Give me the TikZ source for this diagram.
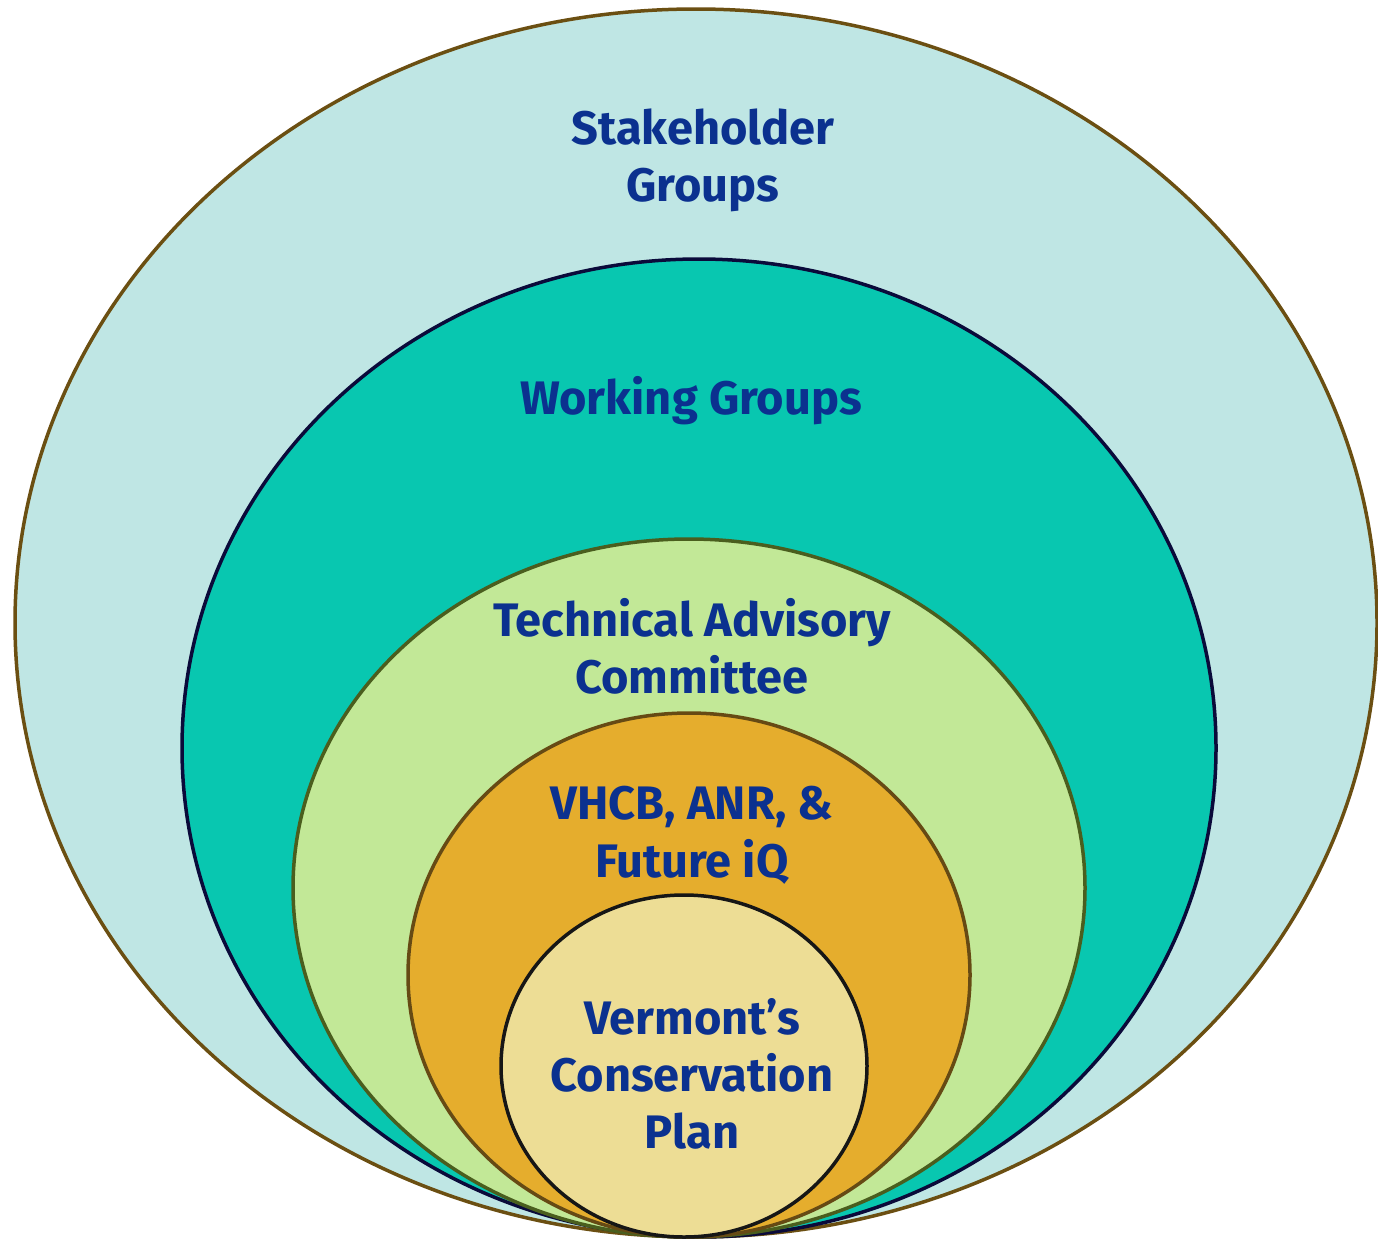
\documentclass[tikz,border=0pt]{standalone}
\usepackage{fontspec}
\setmainfont{Fira Sans}
\definecolor{txt}{HTML}{0B318F}
\definecolor{c1f}{HTML}{BFE6E4}
\definecolor{c1d}{HTML}{6B4F12}
\definecolor{c2f}{HTML}{08C7B0}
\definecolor{c2d}{HTML}{0A0A3A}
\definecolor{c3f}{HTML}{C2E897}
\definecolor{c3d}{HTML}{4A5E1E}
\definecolor{c4f}{HTML}{E5AD2D}
\definecolor{c4d}{HTML}{664A14}
\definecolor{c5f}{HTML}{EDDD95}
\definecolor{c5d}{HTML}{161616}
\begin{document}
\begin{tikzpicture}[x=1pt,y=-1pt,
  lab/.style={anchor=base,inner sep=0pt,text=txt,font=\fontsize{47}{57}\selectfont\bfseries},
  ring/.style={line width=3.5pt}]
\useasboundingbox (0,0) rectangle (1378,1240);
\draw[ring,fill=c1f,draw=c1d] (696,623) ellipse [x radius=681, y radius=614];
\draw[ring,fill=c2f,draw=c2d] (699,748) ellipse [x radius=517, y radius=489];
\draw[ring,fill=c3f,draw=c3d] (689,888) ellipse [x radius=396, y radius=349];
\draw[ring,fill=c4f,draw=c4d] (689,975) ellipse [x radius=281, y radius=262];
\draw[ring,fill=c5f,draw=c5d] (684,1066) ellipse [x radius=183, y radius=171];
\node[lab] (sh1) at (703,144) {Stakeholder};
\node[lab] (sh2) at (703,201) {Groups};
\node[lab] (wg) at (691,414) {Working Groups};
\node[lab] (ta1) at (692,636) {Technical Advisory};
\node[lab] (ta2) at (692,693) {Committee};
\node[lab] (vh1) at (692,819) {VHCB, ANR, \&};
\node[lab] (vh2) at (692,877) {Future iQ};
\node[lab] (vc1) at (692,1034) {Vermont’s};
\node[lab] (vc2) at (692,1091) {Conservation};
\node[lab] (vc3) at (692,1148) {Plan};
\end{tikzpicture}
\end{document}
